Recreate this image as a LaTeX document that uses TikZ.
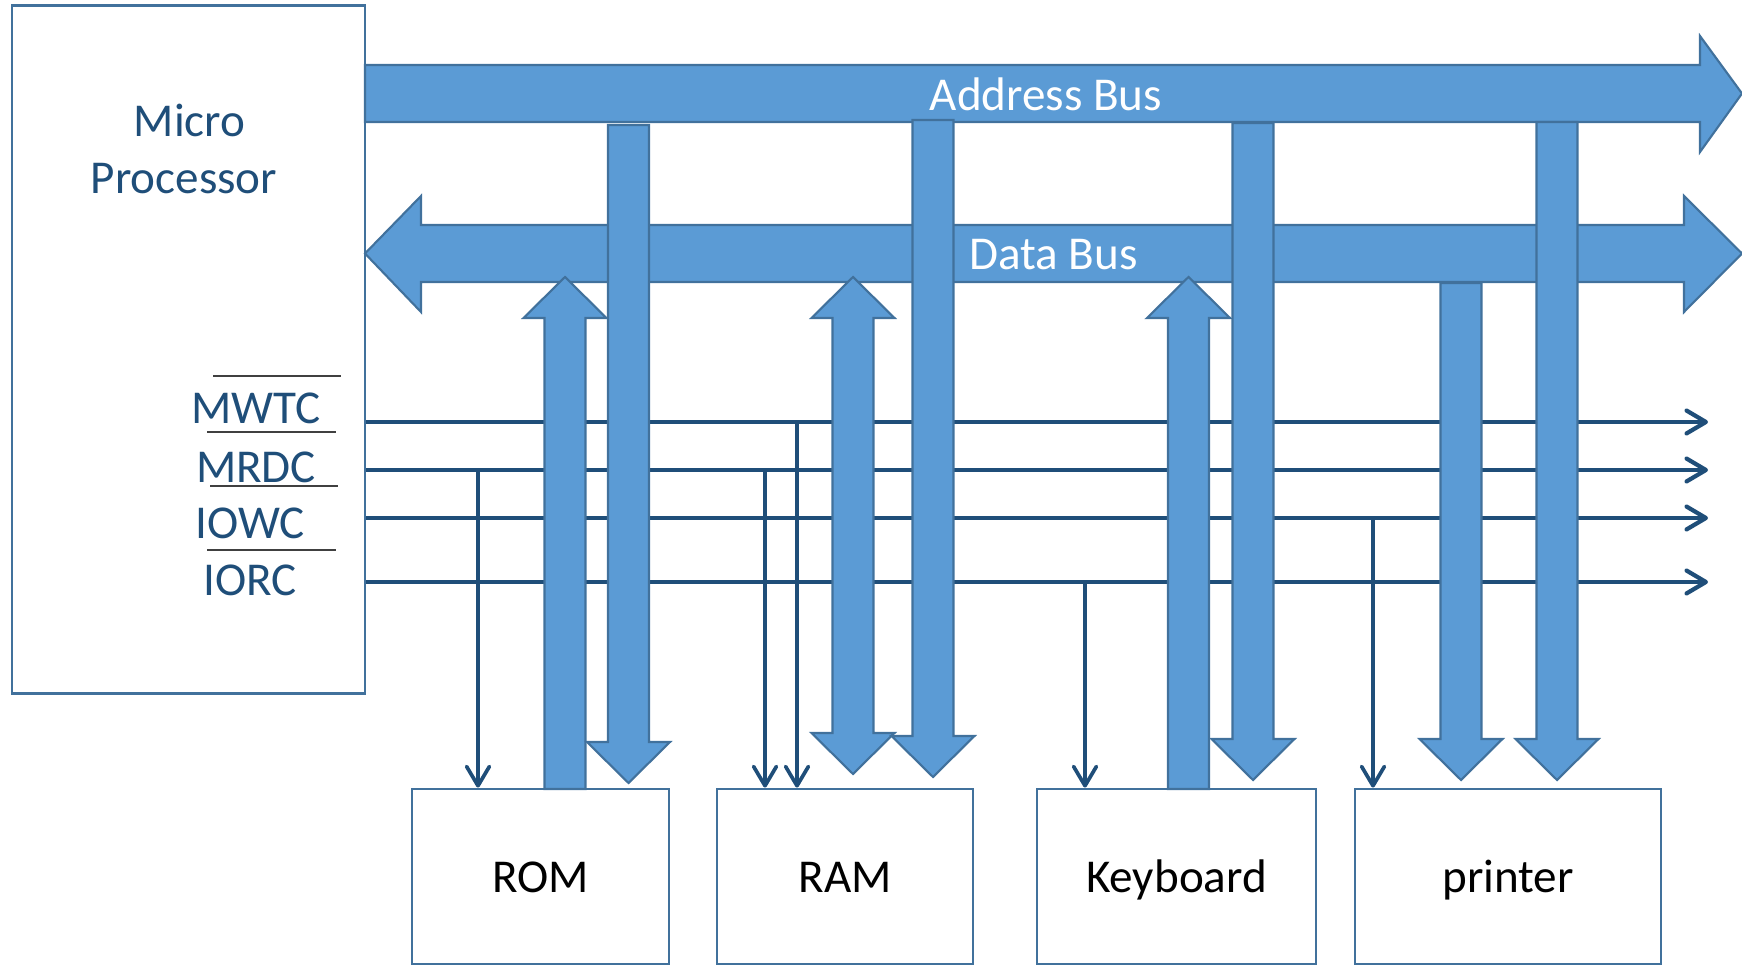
\documentclass[tikz,border=0pt]{standalone}
\usepackage{fontspec}
\setmainfont{Carlito}
\usetikzlibrary{arrows.meta}

\definecolor{busfill}{HTML}{5B9BD5}
\definecolor{busline}{HTML}{41719C}
\definecolor{sigline}{HTML}{1F4E79}

\begin{document}
\begin{tikzpicture}[x=0.01cm,y=-0.01cm]
\def \shaft {20.5}
\def \head {41.5}
\def \hlen {41}
\def \busdown#1#2#3{\draw[busarrow] ({#1-\shaft},#2) -- ({#1+\shaft},#2) -- ({#1+\shaft},{#3-\hlen}) -- ({#1+\head},{#3-\hlen}) -- (#1,#3) -- ({#1-\head},{#3-\hlen}) -- ({#1-\shaft},{#3-\hlen}) -- cycle;}
\def \busup#1#2#3{\draw[busarrow] ({#1-\shaft},#2) -- ({#1-\shaft},{#3+\hlen}) -- ({#1-\head},{#3+\hlen}) -- (#1,#3) -- ({#1+\head},{#3+\hlen}) -- ({#1+\shaft},{#3+\hlen}) -- ({#1+\shaft},#2) -- cycle;}
\def \busboth#1#2#3{\draw[busarrow] (#1,#2) -- ({#1+\head},{#2+\hlen}) -- ({#1+\shaft},{#2+\hlen}) -- ({#1+\shaft},{#3-\hlen}) -- ({#1+\head},{#3-\hlen}) -- (#1,#3) -- ({#1-\head},{#3-\hlen}) -- ({#1-\shaft},{#3-\hlen}) -- ({#1-\shaft},{#2+\hlen}) -- ({#1-\head},{#2+\hlen}) -- cycle;}
\useasboundingbox (0,0) rectangle (1742,967);
   \tikzset{every node/.style = {font = \fontsize{13.4}{16}\selectfont},
            busarrow/.style = {fill = busfill, draw = busline, line width = 0.6pt, line join = miter},
            unit/.style = {draw = busline, line width = 0.75pt, inner sep = 0pt, text depth = 0pt, text height = 0.31cm},
            sig/.style = {draw = sigline, line width = 1.2pt, -{Straight Barb[length = 5.5pt, width = 6.5pt, round]}},
            tap/.style = {draw = sigline, line width = 1.05pt, -{Straight Barb[length = 5.5pt, width = 6.5pt, round]}},
            bar/.style = {draw = black!75, line width = 0.55pt},
            siglabel/.style = {text = sigline, anchor = base, inner sep = 0pt},
            buslabel/.style = {text = white, anchor = base, inner sep = 0pt}}

   \node[unit, minimum width = 3.53cm, minimum height = 6.87cm] (mp) at (188.5,349.5) {};
   \node[siglabel] (micro) at (189.5,137) {Micro};
   \node[siglabel] (proc) at (184,194) {Processor};

   \node[unit, minimum width = 2.57cm, minimum height = 1.75cm] (rom) at (540.5,876.5) {ROM};
   \node[unit, minimum width = 2.56cm, minimum height = 1.75cm] (ram) at (845,876.5) {RAM};
   \node[unit, minimum width = 2.79cm, minimum height = 1.75cm] (kbd) at (1176.5,876.5) {Keyboard};
   \node[unit, minimum width = 3.06cm, minimum height = 1.75cm] (prn) at (1508,876.5) {printer};

   % control signals
   \node[siglabel] (mwtc) at (256,424) {MWTC};
   \node[siglabel] (mrdc) at (256,482) {MRDC};
   \node[siglabel] (iowc) at (250.5,539) {IOWC};
   \node[siglabel] (iorc) at (250,595) {IORC};
   \draw[bar] (213,376) -- (341,376);
   \draw[bar] (207,432) -- (336,432);
   \draw[bar] (210,486) -- (338,486);
   \draw[bar] (207,550) -- (336,550);

   \coordinate (mwtcR) at (1708,422);
   \coordinate (mrdcR) at (1708,470);
   \coordinate (iowcR) at (1708,518);
   \coordinate (iorcR) at (1708,582);
   \draw[sig] (mp.east |- mwtcR) -- (mwtcR);
   \draw[sig] (mp.east |- mrdcR) -- (mrdcR);
   \draw[sig] (mp.east |- iowcR) -- (iowcR);
   \draw[sig] (mp.east |- iorcR) -- (iorcR);

   \coordinate (romT) at (478,470);
   \coordinate (ramTa) at (765,470);
   \coordinate (ramTb) at (797,422);
   \coordinate (kbdT) at (1085,582);
   \coordinate (prnT) at (1373,518);
   \draw[tap] (romT) -- (romT |- rom.north);
   \draw[tap] (ramTa) -- (ramTa |- ram.north);
   \draw[tap] (ramTb) -- (ramTb |- ram.north);
   \draw[tap] (kbdT) -- (kbdT |- kbd.north);
   \draw[tap] (prnT) -- (prnT |- prn.north);

   % buses
   \draw[busarrow] (365,65) -- (1700,65) -- (1700,36) -- (1742,93.5) -- (1700,152) -- (1700,122) -- (365,122) -- cycle;
   \draw[busarrow] (365,253.5) -- (421,196) -- (421,225) -- (1684,225) -- (1684,196) -- (1742,253.5) -- (1684,312) -- (1684,282) -- (421,282) -- (421,312) -- cycle;

   \busup{565}{789}{277}
   \busdown{628.5}{125}{783}
   \busboth{853}{277}{774}
   \busdown{933}{120}{777}
   \busup{1188.5}{789}{277}
   \busdown{1253}{123}{780}
   \busdown{1461}{283}{780}
   \busdown{1557}{122}{780}

   \node[buslabel] (abus) at (1046,111) {Address Bus};
   \node[buslabel] (dbus) at (1053.5,270) {Data Bus};
\end{tikzpicture}
\end{document}
